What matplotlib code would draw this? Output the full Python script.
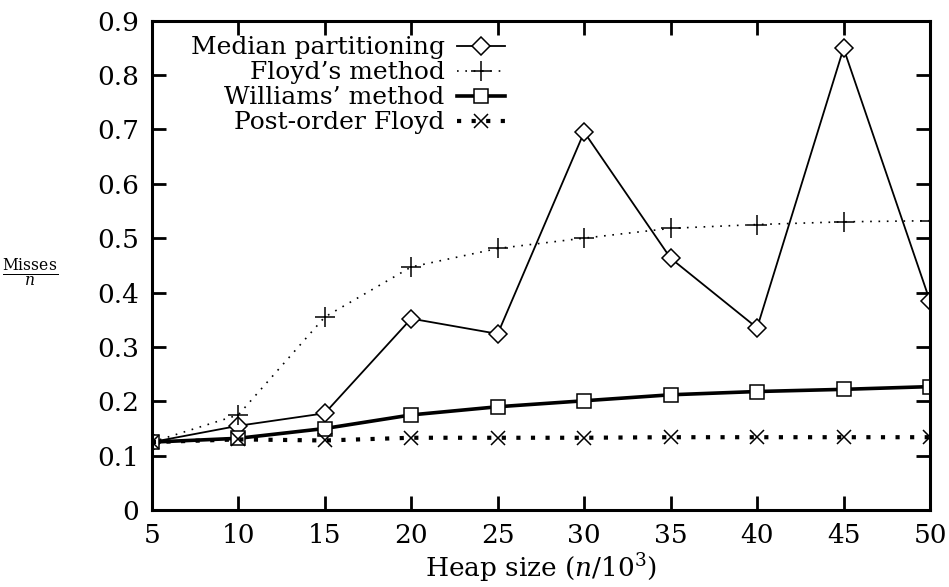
import matplotlib.pyplot as plt
import numpy as np

heap_size = [5, 10, 15, 20, 25, 30, 35, 40, 45, 50]
median_part = [0.125, 0.155, 0.178, 0.352, 0.324, 0.695, 0.463, 0.335, 0.849, 0.384]
floyd = [0.125, 0.175, 0.355, 0.447, 0.481, 0.500, 0.518, 0.525, 0.530, 0.532]
williams = [0.125, 0.132, 0.150, 0.175, 0.190, 0.201, 0.212, 0.218, 0.222, 0.227]
post_floyd = [0.125, 0.130, 0.128, 0.133, 0.133, 0.133, 0.134, 0.134, 0.134, 0.134]


def main():
    plt.rcParams['font.family'] = ['DejaVu Serif']
    plt.rcParams['mathtext.fontset'] = 'dejavuserif'

    fig = plt.figure(figsize=(9.49, 5.87), dpi=100)
    ax = fig.add_axes([0.160, 0.131, 0.820, 0.834])

    ax.plot(heap_size, median_part, color='black', lw=1.3, marker='D',
            markersize=9.5, markerfacecolor='white', markeredgewidth=1.1,
            label='Median partitioning')
    ax.plot(heap_size, floyd, color='black', lw=1.2, linestyle=(0, (1, 4)),
            marker='+', markersize=15, markeredgewidth=1.1,
            label="Floyd\u2019s method")
    ax.plot(heap_size, williams, color='black', lw=2.6, marker='s',
            markersize=10.5, markerfacecolor='white', markeredgewidth=1.1,
            label="Williams\u2019 method")
    ax.plot(heap_size, post_floyd, color='black', lw=3, linestyle=(0, (1, 2.5)),
            marker='x', markersize=10, markeredgewidth=1.1,
            label='Post-order Floyd')

    ax.set_xlim(5, 50)
    ax.set_ylim(0, 0.9)
    ax.set_xticks(heap_size)
    ax.set_yticks(np.arange(0, 0.91, 0.1))
    ax.set_yticklabels(['0'] + ['%.1f' % v for v in np.arange(0.1, 0.91, 0.1)])
    ax.tick_params(direction='in', length=10, width=2, top=True, right=True,
                   labelsize=19)
    ax.tick_params(axis='x', pad=9)
    ax.tick_params(axis='y', pad=9)
    for s in ax.spines.values():
        s.set_linewidth(2.2)

    ax.set_xlabel(r'Heap size $(n/10^3)$', fontsize=19, labelpad=3)
    ax.set_ylabel(r'$\frac{\mathrm{Misses}}{n}$', fontsize=16, rotation=0,
                  va='center', ha='center')
    ax.yaxis.set_label_coords(-0.157, 0.485)

    leg = ax.legend(loc='upper left', bbox_to_anchor=(0.037, 0.988), frameon=False,
                    markerfirst=False, fontsize=18, handlelength=1.9,
                    labelspacing=0.08, handletextpad=0.5, borderaxespad=0)
    leg._legend_box.align = 'right'

    plt.savefig('out.png', dpi=100)


if __name__ == "__main__":
    main()
